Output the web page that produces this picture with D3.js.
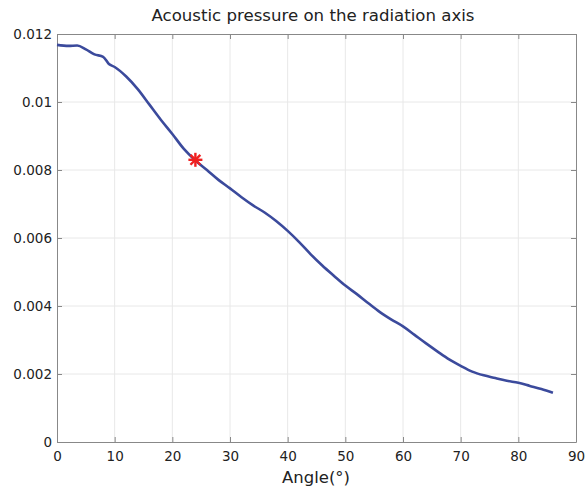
<!DOCTYPE html>
<html>
<head>
<meta charset="utf-8">
<script src="https://cdn.jsdelivr.net/npm/d3@7"></script>
<style>
  body { margin: 0; background: #fff; }
  text { font-family: "DejaVu Sans", Verdana, sans-serif; fill: #222; }
</style>
</head>
<body>
<div id="chart"></div>
<script>
// Angle (degrees) and acoustic pressure
const angles = [0, 2, 3.5, 5, 6.5, 8, 9, 10, 12, 14, 16, 18, 20, 22, 24, 26, 28, 30, 32, 34, 36, 38, 40,
    42, 44, 46, 48, 50, 52, 54, 56, 58, 60, 62, 64, 66, 68, 70, 72, 74, 76, 78, 80, 82, 84, 86];
const pressure = [0.01168, 0.01165, 0.01166, 0.01155, 0.0114, 0.01133, 0.01112, 0.01103, 0.01075, 0.01038,
    0.00993, 0.00948, 0.00906, 0.00862, 0.00828, 0.008, 0.00771, 0.00746, 0.0072, 0.00696, 0.00675, 0.0065,
    0.00621, 0.00588, 0.00552, 0.00519, 0.00489, 0.0046, 0.00435, 0.00408, 0.00382, 0.0036, 0.0034, 0.00315,
    0.0029, 0.00266, 0.00243, 0.00224, 0.00207, 0.00196, 0.00188, 0.0018, 0.00174, 0.00165, 0.00156, 0.00145];
const marker = [{ angle: 24, value: 0.0083 }];
const xTicks = [0, 10, 20, 30, 40, 50, 60, 70, 80, 90];
const yTicks = [0, 0.002, 0.004, 0.006, 0.008, 0.01, 0.012];

const W = 587, H = 490;
const margin = { top: 34, right: 11, bottom: 48, left: 57 };
const width = W - margin.left - margin.right,
    height = H - margin.top - margin.bottom;

const svg = d3.select("#chart").append("svg").attr("width", W).attr("height", H);
const g = svg.append("g").attr("transform", "translate(" + margin.left + "," + margin.top + ")");

const x = d3.scaleLinear().domain([0, 90]).range([0, width]);
const y = d3.scaleLinear().domain([0, 0.012]).range([height, 0]);

// Grid lines
g.append("g").selectAll("line").data(xTicks.slice(1, -1)).enter().append("line")
    .attr("x1", (d) => x(d)).attr("x2", (d) => x(d)).attr("y1", 0).attr("y2", height)
    .attr("stroke", "#e8e8e8").attr("stroke-width", 1);
g.append("g").selectAll("line").data(yTicks.slice(1, -1)).enter().append("line")
    .attr("y1", (d) => y(d)).attr("y2", (d) => y(d)).attr("x1", 0).attr("x2", width)
    .attr("stroke", "#e8e8e8").attr("stroke-width", 1);

// Axes, ticks pointing inward on all four sides
const fmt = (d) => (d === 0 ? "0" : String(+d.toFixed(3)));
const styleAxis = (sel) => {
    sel.select(".domain").attr("stroke", "#888");
    sel.selectAll(".tick line").attr("stroke", "#888");
    sel.selectAll("text").style("font-size", "13.5px").attr("fill", "#222");
};
g.append("g").attr("transform", "translate(0," + height + ")")
    .call(d3.axisBottom(x).tickValues(xTicks).tickSizeInner(-5).tickSizeOuter(0).tickPadding(9))
    .call(styleAxis);
g.append("g")
    .call(d3.axisLeft(y).tickValues(yTicks).tickFormat(fmt).tickSizeInner(-5).tickSizeOuter(0).tickPadding(5))
    .call(styleAxis);
g.append("g")
    .call(d3.axisTop(x).tickValues(xTicks).tickSizeInner(-5).tickSizeOuter(0).tickFormat(""))
    .call(styleAxis);
g.append("g").attr("transform", "translate(" + width + ",0)")
    .call(d3.axisRight(y).tickValues(yTicks).tickSizeInner(-5).tickSizeOuter(0).tickFormat(""))
    .call(styleAxis);

// Curve
const data = angles.map((a, i) => ({ angle: a, value: pressure[i] }));
const line = d3.line().x((d) => x(d.angle)).y((d) => y(d.value)).curve(d3.curveMonotoneX);
g.append("path").datum(data)
    .attr("fill", "none").attr("stroke", "#3b4a9c").attr("stroke-width", 2.6)
    .attr("stroke-linejoin", "round").attr("d", line);

// Red asterisk marker
const star = g.selectAll(".star").data(marker).enter().append("g")
    .attr("class", "star")
    .attr("transform", (d) => "translate(" + x(d.angle) + "," + y(d.value) + ")");
[0, 45, 90, 135].forEach((r) => {
    star.append("line").attr("x1", -7).attr("x2", 7).attr("y1", 0).attr("y2", 0)
        .attr("transform", "rotate(" + r + ")")
        .attr("stroke", "#f02020").attr("stroke-width", 2.4);
});

// Titles
svg.append("text").attr("x", 313).attr("y", 21)
    .attr("text-anchor", "middle").style("font-size", "15px")
    .attr("textLength", 323).attr("lengthAdjust", "spacingAndGlyphs")
    .text("Acoustic pressure on the radiation axis");
svg.append("text").attr("x", 316).attr("y", 483)
    .attr("text-anchor", "middle").style("font-size", "15.5px")
    .attr("textLength", 68).attr("lengthAdjust", "spacingAndGlyphs")
    .text("Angle(°)");
</script>
</body>
</html>
